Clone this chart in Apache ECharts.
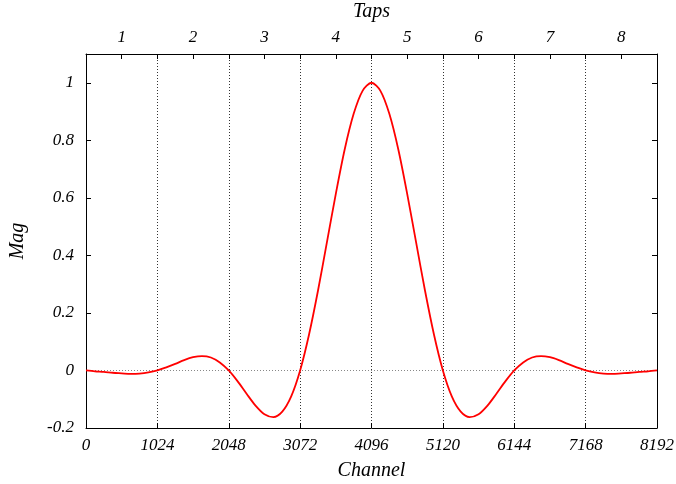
<!DOCTYPE html>
<html><head><meta charset="utf-8">
<script src="https://cdn.jsdelivr.net/npm/echarts@6/dist/echarts.min.js"></script>
<style>html,body{margin:0;padding:0;background:#fff}#c{width:676px;height:484px}</style>
</head><body><div id="c"></div>
<script>
var channels = [0,128,256,384,512,640,768,896,1024,1152,1280,1408,1536,1664,1792,1920,2048,2176,2304,2432,2560,2688,2816,2944,3072,3200,3328,3456,3584,3712,3840,3968,4096,4224,4352,4480,4608,4736,4864,4992,5120,5248,5376,5504,5632,5760,5888,6016,6144,6272,6400,6528,6656,6784,6912,7040,7168,7296,7424,7552,7680,7808,7936,8064,8192];
var mag = [0,-0.003,-0.005,-0.008,-0.010,-0.012,-0.011,-0.007,0,0.011,0.023,0.036,0.046,0.050,0.045,0.028,0,-0.038,-0.081,-0.122,-0.152,-0.162,-0.143,-0.090,0,0.125,0.277,0.445,0.614,0.769,0.892,0.972,1.000,0.972,0.892,0.769,0.614,0.445,0.277,0.125,0,-0.090,-0.143,-0.162,-0.152,-0.122,-0.081,-0.038,0,0.028,0.045,0.050,0.046,0.036,0.023,0.011,0,-0.007,-0.011,-0.012,-0.010,-0.008,-0.005,-0.003,0];
var xTicks = [0,1024,2048,3072,4096,5120,6144,7168,8192];
var tapLabels = ['1','2','3','4','5','6','7','8'];
var yTicks = [-0.2,0,0.2,0.4,0.6,0.8,1];

var font = 'Liberation Serif';
var lblStyle = {fontFamily: font, fontStyle: 'italic', fontSize: 17, color: '#000'};
var nameStyle = {fontFamily: font, fontStyle: 'italic', fontSize: 20, color: '#000'};
var chart = echarts.init(document.getElementById('c'), null, {renderer: 'canvas'});
var data = channels.map(function(c, i){ return [c, mag[i]]; });
var frameLine = {show: true, onZero: false, lineStyle: {color: '#000', width: 1}};
chart.setOption({
  animation: false,
  grid: {left: 86, right: 19, top: 54, bottom: 56, containLabel: false, outerBoundsMode: 'none'},
  xAxis: [{
    type: 'value', position: 'bottom', min: 0, max: 8192, interval: 1024,
    name: 'Channel', nameLocation: 'middle', nameGap: 33, nameTextStyle: nameStyle,
    axisLine: frameLine,
    axisTick: {show: true, inside: true, length: 5, lineStyle: {color: '#000'}},
    axisLabel: Object.assign({margin: 9, formatter: function(v){ return xTicks.indexOf(v) >= 0 ? String(v) : ''; }}, lblStyle),
    splitLine: {show: true, lineStyle: {color: '#333', type: [1, 2], width: 1}}
  }, {
    type: 'value', position: 'top', min: 0, max: 8192, interval: 512,
    name: 'Taps', nameLocation: 'middle', nameGap: 32, nameTextStyle: nameStyle,
    axisLine: frameLine,
    axisTick: {show: true, inside: true, length: 5, lineStyle: {color: '#000'}},
    axisLabel: Object.assign({margin: 8, formatter: function(v){
      var k = Math.round(v / 512);
      return (k % 2 === 1) ? tapLabels[(k - 1) / 2] : '';
    }}, lblStyle),
    splitLine: {show: false}
  }],
  yAxis: [{
    type: 'value', position: 'left', min: -0.2, max: 1.1, interval: 0.2,
    name: 'Mag', nameLocation: 'middle', nameRotate: 90, nameGap: 58, nameTextStyle: nameStyle,
    axisLine: frameLine,
    axisTick: {show: true, inside: true, length: 5, lineStyle: {color: '#000'}},
    axisLabel: Object.assign({margin: 12, showMaxLabel: false, formatter: function(v){
      var r = Math.round(v * 10) / 10;
      for (var i = 0; i < yTicks.length; i++) if (Math.abs(yTicks[i] - r) < 1e-9 && Math.abs(v - r) < 1e-9) return String(yTicks[i]);
      return '';
    }}, lblStyle),
    splitLine: {show: false}
  }, {
    type: 'value', position: 'right', min: -0.2, max: 1.1, interval: 0.2,
    axisLine: frameLine,
    axisTick: {show: true, inside: true, length: 5, lineStyle: {color: '#000'}},
    axisLabel: {show: false},
    splitLine: {show: false}
  }],
  series: [{
    type: 'line', xAxisIndex: 0, yAxisIndex: 0, data: data, smooth: 0.3,
    showSymbol: false, symbol: 'none',
    lineStyle: {color: '#ff0000', width: 1.8},
    markLine: {
      silent: true, symbol: 'none', label: {show: false},
      lineStyle: {color: '#888', type: [1, 2], width: 1},
      data: [{yAxis: 0}]
    },
    z: 5
  }]
});
</script></body></html>
